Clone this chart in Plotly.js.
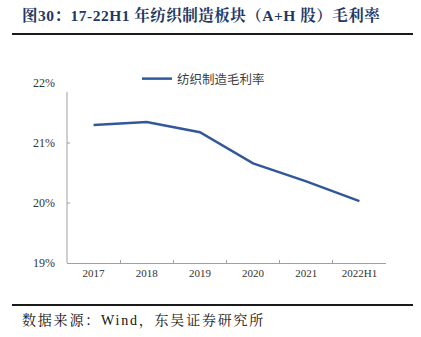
<!DOCTYPE html>
<html><head><meta charset="utf-8">
<script src="https://cdn.plot.ly/plotly-3.0.1.min.js"></script>
<style>html,body{margin:0;padding:0;background:#fff}#c{width:421px;height:337px}
.annotation-text{letter-spacing:1.8px}
.gtitle{letter-spacing:0.5px}
</style>
</head><body><div id="c"></div>
<script>
const categories = ["2017","2018","2019","2020","2021","2022H1"];
const grossMargin = [21.30, 21.35, 21.18, 20.66, 20.36, 20.03];
const yTickVals = [19, 20, 21, 22];
const yTickText = ["19%", "20%", "21%", "22%"];
const seriesName = "纺织制造毛利率";
const titleText = "图30：17-22H1 年纺织制造板块（A+H 股）毛利率";
const sourceText = "数据来源：Wind，东吴证券研究所";

const serif = "'Times New Roman', 'Liberation Serif', 'Noto Serif CJK SC', 'Noto Sans CJK SC', serif";
const L = 67, R = 386, T = 83, B = 263, W = 421, H = 337;
const px = x => (x - L) / (R - L);
const py = y => (B - y) / (B - T);

const trace = {
  type: "scatter", mode: "lines", x: categories, y: grossMargin, name: seriesName,
  line: {color: "#31599A", width: 2.5}
};
const layout = {
  width: W, height: H,
  margin: {l: L, r: W - R, t: T, b: H - B, pad: 0},
  paper_bgcolor: "#fff", plot_bgcolor: "#fff",
  showlegend: true,
  legend: {x: px(137), y: py(64), xanchor: "left", yanchor: "top", orientation: "h",
    font: {family: "'Noto Sans CJK SC', sans-serif", size: 12.5, color: "#404040"},
    bgcolor: "rgba(0,0,0,0)"},
  title: {text: "<b>" + titleText + "</b>", x: 22 / W, xanchor: "left", xref: "container",
    y: 1 - 16 / H, yanchor: "middle", yref: "container",
    font: {family: serif, size: 15.5, color: "#1F3864"}},
  xaxis: {type: "category", showgrid: false, zeroline: false, showline: true,
    linecolor: "#A0A0A0", linewidth: 1, ticks: "inside", tickson: "boundaries",
    ticklen: 3, tickcolor: "#A0A0A0",
    tickfont: {family: serif, size: 11, color: "#333"}, range: [-0.5, 5.5]},
  yaxis: {range: [19, 22], showgrid: false, zeroline: false, showline: false,
    tickvals: yTickVals, ticktext: yTickText, ticks: "", ticklabelstandoff: 11,
    tickfont: {family: serif, size: 12, color: "#333"}},
  shapes: [
    {type: "line", xref: "paper", yref: "paper", x0: 0, x1: 0, y0: 0, y1: py(92),
      line: {color: "#A0A0A0", width: 1}},
    {type: "line", xref: "paper", yref: "y", x0: 0, x1: px(70), y0: 20, y1: 20,
      line: {color: "#A0A0A0", width: 1}},
    {type: "line", xref: "paper", yref: "y", x0: 0, x1: px(70), y0: 21, y1: 21,
      line: {color: "#A0A0A0", width: 1}},
    {type: "line", xref: "paper", yref: "paper", x0: px(12), x1: px(413), y0: py(34), y1: py(34),
      line: {color: "#1a1a1a", width: 2}},
    {type: "line", xref: "paper", yref: "paper", x0: px(12), x1: px(413), y0: py(305), y1: py(305),
      line: {color: "#1a1a1a", width: 2}}
  ],
  annotations: [
    {text: sourceText, xref: "paper", yref: "paper", x: px(20), y: py(320),
      xanchor: "left", yanchor: "middle", showarrow: false,
      font: {family: serif, size: 14, color: "#111"}}
  ]
};
Plotly.newPlot("c", [trace], layout, {staticPlot: true, displayModeBar: false});
</script></body></html>
